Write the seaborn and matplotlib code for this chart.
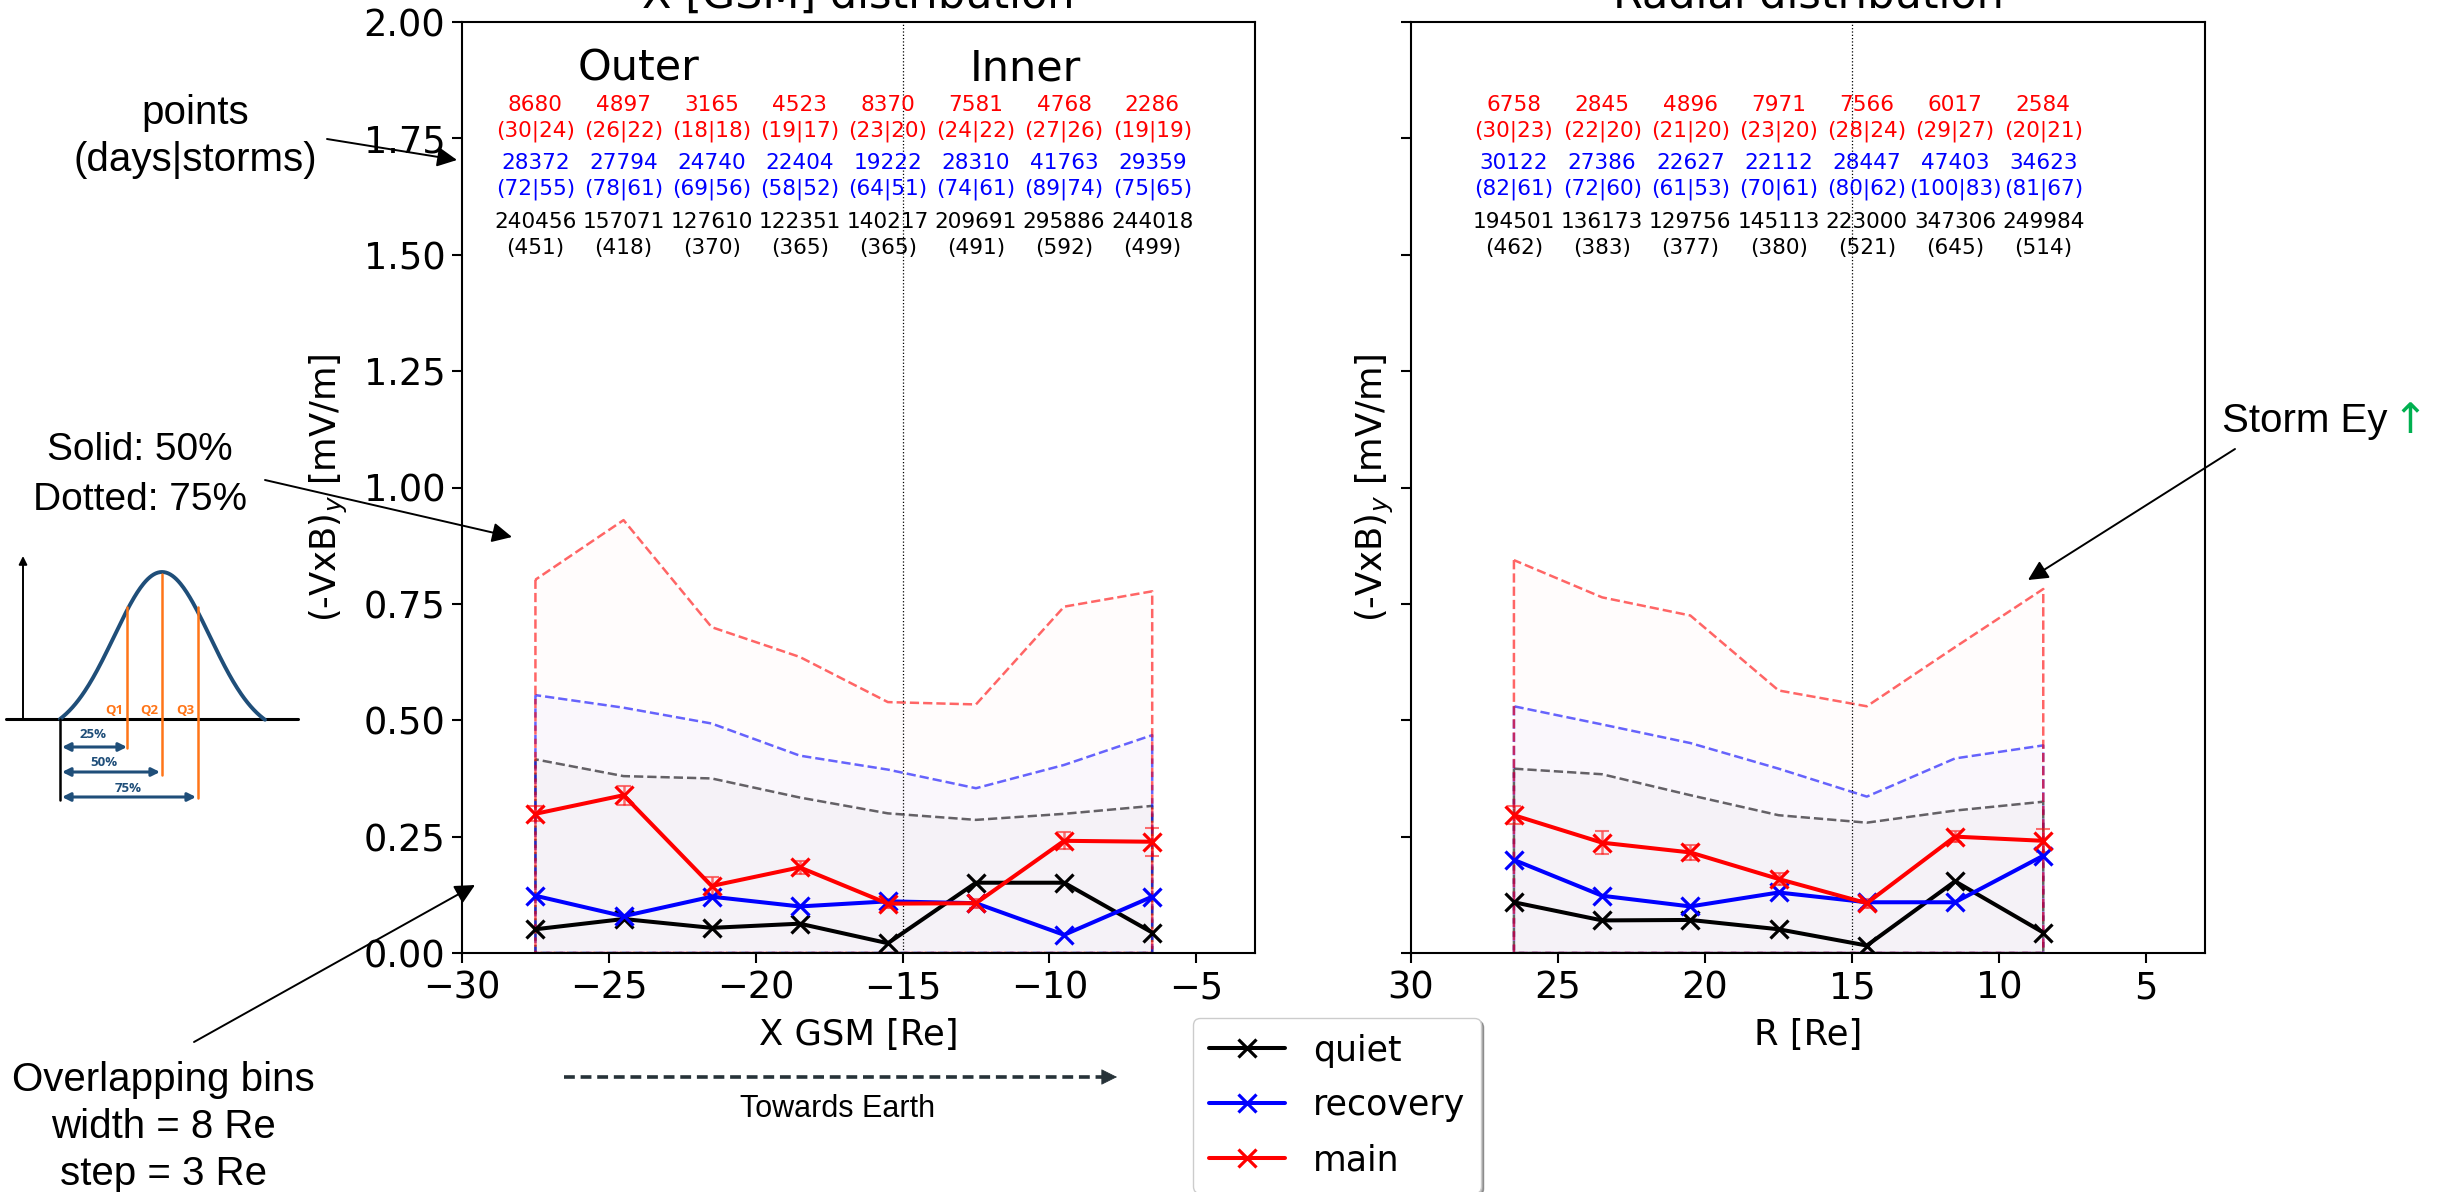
import numpy as np
import pandas as pd
import matplotlib
matplotlib.use("Agg")
import matplotlib.pyplot as plt
import seaborn as sns

# ---------------- data ----------------
x_gsm = [-27.5, -24.5, -21.5, -18.5, -15.5, -12.5, -9.5, -6.5]
r_bins = [26.5, 23.5, 20.5, 17.5, 14.5, 11.5, 8.5]

gsm_quiet_med = [0.051, 0.073, 0.054, 0.063, 0.021, 0.151, 0.151, 0.044]
gsm_rec_med = [0.123, 0.079, 0.121, 0.100, 0.111, 0.107, 0.039, 0.121]
gsm_main_med = [0.299, 0.339, 0.144, 0.184, 0.106, 0.107, 0.241, 0.239]
gsm_quiet_q75 = [0.416, 0.380, 0.375, 0.334, 0.300, 0.286, 0.299, 0.316]
gsm_rec_q75 = [0.554, 0.527, 0.493, 0.424, 0.394, 0.354, 0.404, 0.468]
gsm_main_q75 = [0.802, 0.930, 0.700, 0.636, 0.539, 0.534, 0.744, 0.777]
gsm_main_err = [0.016, 0.020, 0.019, 0.014, 0.010, 0.010, 0.018, 0.030]

r_quiet_med = [0.109, 0.070, 0.071, 0.051, 0.016, 0.154, 0.044]
r_rec_med = [0.200, 0.123, 0.100, 0.130, 0.109, 0.109, 0.209]
r_main_med = [0.296, 0.237, 0.216, 0.159, 0.107, 0.250, 0.241]
r_quiet_q75 = [0.396, 0.384, 0.339, 0.296, 0.280, 0.306, 0.325]
r_rec_q75 = [0.530, 0.491, 0.451, 0.396, 0.336, 0.418, 0.446]
r_main_q75 = [0.844, 0.764, 0.725, 0.564, 0.530, 0.657, 0.782]
r_main_err = [0.019, 0.025, 0.016, 0.013, 0.010, 0.012, 0.025]

gsm_main_pts = [8680, 4897, 3165, 4523, 8370, 7581, 4768, 2286]
gsm_main_days = [30, 26, 18, 19, 23, 24, 27, 19]
gsm_main_storms = [24, 22, 18, 17, 20, 22, 26, 19]
gsm_rec_pts = [28372, 27794, 24740, 22404, 19222, 28310, 41763, 29359]
gsm_rec_days = [72, 78, 69, 58, 64, 74, 89, 75]
gsm_rec_storms = [55, 61, 56, 52, 51, 61, 74, 65]
gsm_quiet_pts = [240456, 157071, 127610, 122351, 140217, 209691, 295886, 244018]
gsm_quiet_days = [451, 418, 370, 365, 365, 491, 592, 499]

r_main_pts = [6758, 2845, 4896, 7971, 7566, 6017, 2584]
r_main_days = [30, 22, 21, 23, 28, 29, 20]
r_main_storms = [23, 20, 20, 20, 24, 27, 21]
r_rec_pts = [30122, 27386, 22627, 22112, 28447, 47403, 34623]
r_rec_days = [82, 72, 61, 70, 80, 100, 81]
r_rec_storms = [61, 60, 53, 61, 62, 83, 67]
r_quiet_pts = [194501, 136173, 129756, 145113, 223000, 347306, 249984]
r_quiet_days = [462, 383, 377, 380, 521, 645, 514]

gsm_ticks = [-30, -25, -20, -15, -10, -5]
r_ticks = [30, 25, 20, 15, 10, 5]
y_ticks = [0.0, 0.25, 0.5, 0.75, 1.0, 1.25, 1.5, 1.75, 2.0]

# ---------------- style ----------------
sns.set_style("ticks")
plt.rcParams.update({
    "font.family": ["DejaVu Sans"],
    "axes.edgecolor": "black",
    "axes.linewidth": 1.5,
    "xtick.color": "black",
    "ytick.color": "black",
    "xtick.major.size": 7,
    "ytick.major.size": 7,
    "xtick.major.width": 1.5,
    "ytick.major.width": 1.5,
    "xtick.major.pad": 5,
    "ytick.major.pad": 5,
    "axes.labelcolor": "black",
    "text.color": "black",
})

W, H = 2445, 1192
fig = plt.figure(figsize=(W / 100, H / 100), dpi=100)
fig.patch.set_facecolor("white")

ax1 = fig.add_axes([462 / W, (H - 953) / H, 793 / W, 931 / H])
ax2 = fig.add_axes([1411 / W, (H - 953) / H, 794 / W, 931 / H], sharey=ax1)

series_colors = {"quiet": "black", "recovery": "blue", "main": "red"}
fill_rgb = {"quiet": (0, 0, 0), "recovery": (0, 0, 1), "main": (1, 0, 0)}
fill_alpha = {"quiet": 0.02, "recovery": 0.02, "main": 0.012}


def draw_panel(ax, xs, meds, q75s, err, counts, vline):
    # filled 75% envelopes
    for name in ["quiet", "recovery", "main"]:
        rgb = fill_rgb[name]
        ax.fill_between(xs, 0, q75s[name], facecolor=rgb + (fill_alpha[name],),
                        edgecolor=rgb + (0.6,), linestyle="--", linewidth=1.8,
                        zorder=1)
    # medians
    for name in ["quiet", "recovery", "main"]:
        c = series_colors[name]
        df = pd.DataFrame({"x": xs, "y": meds[name]})
        sns.lineplot(data=df, x="x", y="y", ax=ax, color=c, marker="x",
                     markersize=13, markeredgewidth=2.3, markeredgecolor=c,
                     linewidth=2.9, label=name, estimator=None, sort=False,
                     zorder=4)
    ax.errorbar(xs, meds["main"], yerr=err, fmt="none", ecolor="red",
                alpha=0.55, elinewidth=1.8, capsize=5, capthick=1.5, zorder=3)
    ax.axvline(vline, color="black", linestyle=":", linewidth=0.9, zorder=2)
    # counts
    rows = [("main", "red", 1.793), ("recovery", "blue", 1.668), ("quiet", "black", 1.543)]
    for name, c, yy in rows:
        for i, xv in enumerate(xs):
            if name == "quiet":
                s = f"{counts[name][0][i]}\n({counts[name][1][i]})"
            else:
                s = f"{counts[name][0][i]}\n({counts[name][1][i]}|{counts[name][2][i]})"
            ax.text(xv, yy, s, color=c, ha="center", va="center",
                    fontsize=15.6, linespacing=1.36, zorder=5)
    ax.set_ylim(0, 2.0)
    ax.set_yticks(y_ticks)
    ax.tick_params(axis="both", labelsize=26.5, direction="out")
    ax.set_ylabel(r"(-VxB)$_y$ [mV/m]", fontsize=25.5, labelpad=10)
    leg = ax.get_legend()
    if leg is not None:
        leg.remove()
    for sp in ax.spines.values():
        sp.set_visible(True)
        sp.set_linewidth(1.5)


draw_panel(ax1, x_gsm,
           {"quiet": gsm_quiet_med, "recovery": gsm_rec_med, "main": gsm_main_med},
           {"quiet": gsm_quiet_q75, "recovery": gsm_rec_q75, "main": gsm_main_q75},
           gsm_main_err,
           {"main": (gsm_main_pts, gsm_main_days, gsm_main_storms),
            "recovery": (gsm_rec_pts, gsm_rec_days, gsm_rec_storms),
            "quiet": (gsm_quiet_pts, gsm_quiet_days)},
           -15)
draw_panel(ax2, r_bins,
           {"quiet": r_quiet_med, "recovery": r_rec_med, "main": r_main_med},
           {"quiet": r_quiet_q75, "recovery": r_rec_q75, "main": r_main_q75},
           r_main_err,
           {"main": (r_main_pts, r_main_days, r_main_storms),
            "recovery": (r_rec_pts, r_rec_days, r_rec_storms),
            "quiet": (r_quiet_pts, r_quiet_days)},
           15)

ax1.set_xlim(-30, -3)
ax1.set_xticks(gsm_ticks)
ax1.set_xlabel("X GSM [Re]", fontsize=25.5, labelpad=8)
ax1.set_title("X [GSM] distribution", fontsize=31, pad=10.5)
ax1.text(-24.0, 1.875, "Outer", fontsize=31, ha="center", va="baseline")
ax1.text(-10.8, 1.875, "Inner", fontsize=31, ha="center", va="baseline")

ax2.set_xlim(30, 3)
ax2.set_xticks(r_ticks)
ax2.set_xlabel("R [Re]", fontsize=25.5, labelpad=8)
ax2.set_title("Radial distribution", fontsize=31, pad=10.5)
ax2.tick_params(axis="y", labelleft=False)
ax2.set_ylabel(r"(-VxB)$_y$ [mV/m]", fontsize=25.5, labelpad=4)

# legend
h1 = [l for l in ax1.get_lines() if l.get_label() in ("quiet", "recovery", "main")]
fig.legend(h1, [l.get_label() for l in h1], loc="upper left",
           bbox_to_anchor=(1193 / W, 1 - 1018 / H), bbox_transform=fig.transFigure,
           borderaxespad=0, fontsize=25, shadow=True, fancybox=True, framealpha=1,
           handlelength=2.2, borderpad=0.45, labelspacing=0.6)

# ---------------- overlay annotations (pixel coordinates) ----------------
ov = fig.add_axes([0, 0, 1, 1], zorder=20)
ov.set_xlim(0, W)
ov.set_ylim(H, 0)
ov.axis("off")
ov.patch.set_alpha(0)

ann_font = ["Liberation Sans", "DejaVu Sans"]
ov.text(195, 113, "points", fontsize=29, family=ann_font, ha="center", va="center")
ov.text(195, 160, "(days|storms)", fontsize=29, family=ann_font, ha="center", va="center")
ov.text(140, 450, "Solid: 50%", fontsize=28, family=ann_font, ha="center", va="center")
ov.text(140, 500, "Dotted: 75%", fontsize=28, family=ann_font, ha="center", va="center")
ov.text(163, 1080, "Overlapping bins", fontsize=29, family=ann_font, ha="center", va="center")
ov.text(163, 1127, "width = 8 Re", fontsize=29, family=ann_font, ha="center", va="center")
ov.text(163, 1174, "step = 3 Re", fontsize=29, family=ann_font, ha="center", va="center")
ov.text(838, 1109, "Towards Earth", fontsize=22, family=ann_font, ha="center", va="center")
ov.text(2222, 432, "Storm Ey", fontsize=29, family=ann_font, ha="left", va="baseline")
ov.text(2392, 433, "\u2191", fontsize=30, family=["DejaVu Sans"], ha="left", va="baseline",
        color="#00b050")

arrow_kw = dict(arrowstyle="-|>", color="black", lw=1.4, mutation_scale=30,
                shrinkA=0, shrinkB=0)
ov.annotate("", xy=(457, 160), xytext=(327, 139), arrowprops=arrow_kw)
ov.annotate("", xy=(512, 537), xytext=(265, 480), arrowprops=arrow_kw)
ov.annotate("", xy=(475, 885), xytext=(194, 1042), arrowprops=arrow_kw)
ov.annotate("", xy=(2028, 580), xytext=(2235, 449), arrowprops=arrow_kw)

# towards earth dashed arrow
dark = "#263238"
ov.plot([564, 1103], [1077, 1077], color=dark, lw=2.6, linestyle=(0, (3, 1.6)))
ov.annotate("", xy=(1117, 1077), xytext=(1098, 1077),
            arrowprops=dict(arrowstyle="-|>", color=dark, lw=0.5, mutation_scale=26,
                            shrinkA=0, shrinkB=0))

# schematic of a distribution with quartiles
navy = "#1f4e79"
orange = "#ff7518"
ov.plot([6, 298], [719, 719], color="black", lw=2.2)
ov.annotate("", xy=(23, 556), xytext=(23, 719),
            arrowprops=dict(arrowstyle="-|>", color="black", lw=1.4, mutation_scale=12,
                            shrinkA=0, shrinkB=0))
xc = np.linspace(60, 265, 200)
g = np.exp(-0.5 * ((xc - 162) / 48.0) ** 2)
g0 = np.exp(-0.5 * ((60 - 162) / 48.0) ** 2)
yc = 719 - 147 * (g - g0) / (1 - g0)
ov.plot(xc, yc, color=navy, lw=2.8, solid_capstyle="round")
ov.plot([60, 60], [719, 800], color="black", lw=1.8)
for qx, ytop, ybot, lab in [(127, 607, 748, "Q1"), (162, 574, 775, "Q2"), (198, 607, 798, "Q3")]:
    ov.plot([qx, qx], [ytop, ybot], color=orange, lw=1.8)
    ov.text(qx - 13, 710, lab, color=orange, fontsize=9.5, fontweight="bold",
            ha="center", va="center", family=["Open Sans", "DejaVu Sans"])
for yy, x2, lab, lx, ly in [(747, 127, "25%", 93, 735), (772, 160, "50%", 104, 762),
                            (797, 196, "75%", 128, 788)]:
    ov.annotate("", xy=(x2, yy), xytext=(62, yy),
                arrowprops=dict(arrowstyle="<|-|>", color=navy, lw=2.2,
                                mutation_scale=12, shrinkA=0, shrinkB=0))
    ov.text(lx, ly, lab, color=navy, fontsize=9.5, fontweight="bold",
            ha="center", va="center", family=["Open Sans", "DejaVu Sans"])

fig.savefig("out.png", dpi=100, facecolor="white")
